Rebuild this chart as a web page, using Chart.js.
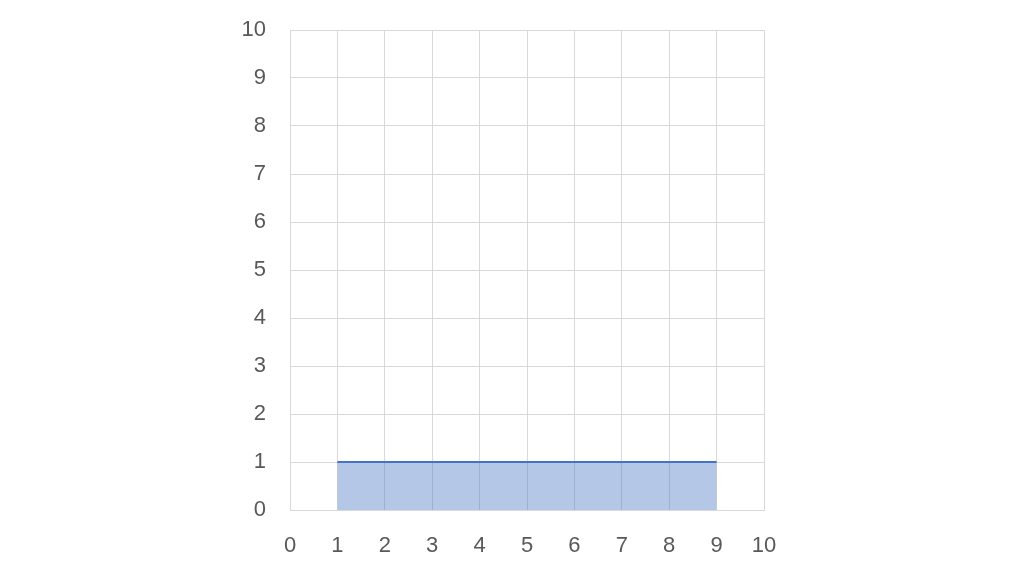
<!DOCTYPE html>
<html>
<head>
<meta charset="utf-8">
<script src="https://cdn.jsdelivr.net/npm/chart.js@4"></script>
<style>
  html, body { margin: 0; padding: 0; background: #fff; }
  #wrap { width: 1024px; height: 576px; }
</style>
</head>
<body>
<div id="wrap"><canvas id="chart" width="1024" height="576"></canvas></div>
<script>
// data
const xValues = [1, 2, 3, 4, 5, 6, 7, 8, 9];
const yValues = [1, 1, 1, 1, 1, 1, 1, 1, 1];
const xTicks = [0, 1, 2, 3, 4, 5, 6, 7, 8, 9, 10];
const yTicks = [0, 1, 2, 3, 4, 5, 6, 7, 8, 9, 10];

const points = xValues.map((x, i) => ({ x: x, y: yValues[i] }));

const gridColor = '#d9d9d9';
const labelFont = { family: "'Liberation Sans', Arial, sans-serif", size: 22 };

new Chart(document.getElementById('chart'), {
    type: 'line',
    data: {
        datasets: [{
            data: points,
            borderColor: '#4472c4',
            backgroundColor: 'rgba(68, 114, 196, 0.4)',
            borderWidth: 2,
            pointRadius: 0,
            tension: 0,
            fill: 'origin'
        }]
    },
    options: {
        responsive: false,
        animation: false,
        layout: {
            padding: { left: 230, right: 260, top: 30, bottom: 6 }
        },
        plugins: {
            legend: { display: false },
            tooltip: { enabled: false }
        },
        scales: {
            x: {
                type: 'linear',
                min: xTicks[0],
                max: xTicks[xTicks.length - 1],
                afterBuildTicks: scale => { scale.ticks = xTicks.map(v => ({ value: v })); },
                afterFit: scale => { scale.height = 60; },
                grid: { color: gridColor, drawTicks: false },
                border: { color: gridColor },
                ticks: { color: '#595959', font: labelFont, padding: 23, maxRotation: 0 }
            },
            y: {
                type: 'linear',
                min: yTicks[0],
                max: yTicks[yTicks.length - 1],
                afterBuildTicks: scale => { scale.ticks = yTicks.map(v => ({ value: v })); },
                afterFit: scale => {
                    // keep the plot top pinned to the layout padding
                    scale.width = 60;
                    scale.paddingTop = 0;
                    scale.paddingBottom = 0;
                },
                grid: { color: gridColor, drawTicks: false },
                border: { color: gridColor },
                ticks: { color: '#595959', font: labelFont, padding: 24 }
            }
        }
    }
});
</script>
</body>
</html>
